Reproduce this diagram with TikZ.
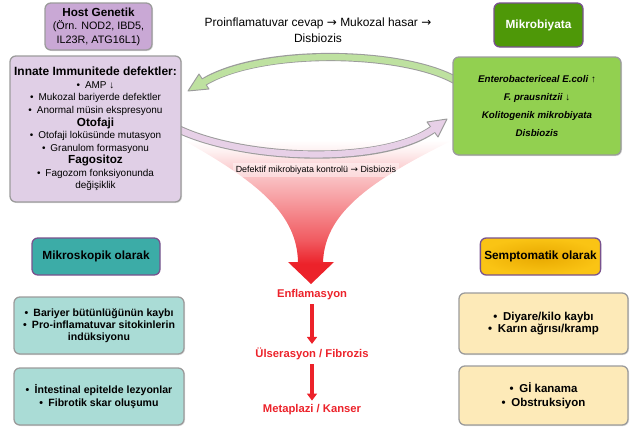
\documentclass[tikz,border=0pt]{standalone}
\usepackage{fontspec}
\setmainfont{Liberation Sans}
\newfontfamily\arrowfont{DejaVu Sans}
\usepackage{xcolor}
\usepackage{tikz}
\usetikzlibrary{positioning,calc,arrows.meta,shadows}
\definecolor{HostLila}{RGB}{201,168,213}
\definecolor{InnateLila}{RGB}{224,207,230}
\definecolor{MikroGreen}{RGB}{78,152,8}
\definecolor{MikroLight}{RGB}{146,208,80}
\definecolor{TealDark}{RGB}{60,172,167}
\definecolor{TealLight}{RGB}{170,220,214}
\definecolor{GoldDeep}{RGB}{232,168,0}
\definecolor{GoldLight}{RGB}{250,196,20}
\definecolor{CreamLight}{RGB}{253,234,184}
\definecolor{FrameGray}{RGB}{155,155,155}
\definecolor{FramePurple}{RGB}{120,82,142}
\definecolor{FlowRed}{RGB}{236,34,42}
\definecolor{ArcGreen}{RGB}{190,225,160}
\definecolor{ArcLila}{RGB}{231,208,231}
\pgfdeclareverticalshading{funnelshade}{100bp}{
    color(0bp)=(FlowRed); color(32bp)=(FlowRed); color(40bp)=(FlowRed!75);
    color(54bp)=(FlowRed!45); color(65bp)=(FlowRed!22); color(71bp)=(FlowRed!7);
    color(75bp)=(white); color(100bp)=(white)}
\newcommand{\pu}{0.3mm}
\newcommand{\rarr}{{\arrowfont →}}
\tikzset{
    infobox/.style={rectangle, rounded corners=5pt, draw=FrameGray, line width=1.1pt,
        align=center, inner sep=2pt,
        drop shadow={opacity=0.25, shadow xshift=0.9pt, shadow yshift=-0.9pt}},
    hdrbox/.style={rectangle, rounded corners=5pt, draw=FramePurple, line width=1.1pt,
        align=center, font=\fontsize{10.1}{12}\selectfont\bfseries}
}

\begin{document}
\begin{tikzpicture}[
        x=\pu, y=-\pu,
        % --- STYLE ---
        flowlabel/.style={text=FlowRed, font=\fontsize{9.6}{11}\selectfont\bfseries},
        flowarrow/.style={draw=FlowRed, line width=2.6pt, -{Triangle[length=6pt,width=8.5pt]}},
        bandout/.style={draw=FrameGray, line width=7pt},
        headtip/.style={draw=FrameGray, line width=0.8pt, line join=round}
    ]
        \useasboundingbox (0,0) rectangle (632,427);

        % --- HUNI (kirmizi) ---
        \shade[shading=funnelshade]
            (183,140) .. controls (260,183) and (297,215) .. (298,262)
            -- (288,262) -- (311,284) -- (334,262) -- (323,262)
            .. controls (325,215) and (365,183) .. (453,140) -- cycle;

        % --- EGRI OKLAR ---
        \coordinate (gTail) at (455,80);
        \coordinate (gBase) at (204,82);
        \coordinate (gTip)  at (188,91);
        \coordinate (gW1)   at (199,74);
        \coordinate (gW2)   at (209,89);
        \draw[bandout] (gTail) .. controls (400,50) and (260,48) .. (gBase);
        \draw[headtip, fill=ArcGreen] (gTip) -- (gW1) -- (gW2) -- cycle;
        \draw[ArcGreen, line width=5.3pt, shorten >=-1.5pt]
            (gTail) .. controls (400,50) and (260,48) .. (gBase);

        \coordinate (pTail) at (176,128);
        \coordinate (pBase) at (432,130);
        \coordinate (pTip)  at (447,119);
        \coordinate (pW1)   at (427,122);
        \coordinate (pW2)   at (438,137);
        \draw[bandout] (pTail) .. controls (240,160) and (380,166) .. (pBase);
        \draw[headtip, fill=ArcLila] (pTip) -- (pW1) -- (pW2) -- cycle;
        \draw[ArcLila, line width=5.3pt, shorten >=-1.5pt]
            (pTail) .. controls (240,160) and (380,166) .. (pBase);

        % --- UST KUTULAR ---
        \node[infobox, fill=HostLila, minimum width=107*\pu, minimum height=47*\pu,
            font=\fontsize{9.2}{11.5}\selectfont] (host) at (98.5,26.5)
            {{\fontsize{10}{11.5}\selectfont\bfseries Host Genetik}\\(Örn. NOD2, IBD5,\\IL23R, ATG16L1)};

        \node[infobox, fill=InnateLila, minimum width=171*\pu, minimum height=146*\pu,
            font=\fontsize{8.5}{10.7}\selectfont] (innate) at (95.5,129)
            {{\fontsize{10.2}{10.7}\selectfont\bfseries Innate Immunitede defektler:}\\
             •\enspace AMP ↓\\
             •\enspace Mukozal bariyerde defektler\\
             •\enspace Anormal müsin ekspresyonu\\
             {\fontsize{10}{10.7}\selectfont\bfseries Otofaji}\\
             •\enspace Otofaji loküsünde mutasyon\\
             •\enspace Granulom formasyonu\\
             {\fontsize{10}{10.7}\selectfont\bfseries Fagositoz}\\
             •\enspace Fagozom fonksiyonunda\\
             değişiklik};

        \node[font=\fontsize{10.2}{14}\selectfont, align=center] (proinf) at (318,30)
            {Proinflamatuvar cevap \rarr{} Mukozal hasar \rarr\\Disbiozis};

        \node[hdrbox, fill=MikroGreen, text=white, minimum width=89*\pu,
            minimum height=44*\pu] (mikrobiyata) at (538.5,25) {Mikrobiyata};

        \node[infobox, fill=MikroLight, minimum width=168*\pu, minimum height=98*\pu,
            font=\fontsize{8.3}{15.3}\selectfont\bfseries\itshape] (flora) at (537,106)
            {Enterobactericeal E.coli ↑\\F. prausnitzii ↓\\Kolitogenik mikrobiyata\\Disbiozis};

        \node[font=\fontsize{7.6}{9}\selectfont, fill=white, fill opacity=0.4,
            text opacity=1, inner sep=2.5pt] (defekt) at (316,170)
            {Defektif mikrobiyata kontrolü \rarr{} Disbiozis};

        % --- KIRMIZI AKIS ---
        \node[flowlabel] (enflamasyon) at (312,295) {Enflamasyon};
        \node[flowlabel] (ulserasyon) at (312,354) {Ülserasyon / Fibrozis};
        \node[flowlabel] (metaplazi) at (312,410) {Metaplazi / Kanser};
        \draw[flowarrow] (enflamasyon) -- (ulserasyon);
        \draw[flowarrow] (ulserasyon) -- (metaplazi);

        % --- ALT KUTULAR ---
        \node[hdrbox, fill=TealDark, minimum width=128*\pu, minimum height=37*\pu]
            (mikroskopik) at (96,256.5) {Mikroskopik olarak};
        \node[hdrbox, inner color=GoldDeep, outer color=GoldLight, minimum width=119*\pu,
            minimum height=37*\pu] (semptomatik) at (540.5,256.5) {Semptomatik olarak};

        \node[infobox, fill=TealLight, minimum width=170*\pu, minimum height=57*\pu,
            font=\fontsize{9}{10.2}\selectfont\bfseries] (teal1) at (99,325.5)
            {•\enspace Bariyer bütünlüğünün kaybı\\
             •\enspace Pro-inflamatuvar sitokinlerin\\
             indüksiyonu};
        \node[infobox, fill=TealLight, minimum width=170*\pu, minimum height=57*\pu,
            font=\fontsize{9}{11}\selectfont\bfseries] (teal2) at (99,396.5)
            {•\enspace İntestinal epitelde lezyonlar\\
             •\enspace Fibrotik skar oluşumu};

        \node[infobox, fill=CreamLight, minimum width=169*\pu, minimum height=61*\pu,
            font=\fontsize{9.8}{11}\selectfont\bfseries] (krem1) at (543.5,323.5)
            {•\enspace Diyare/kilo kaybı\\
             •\enspace Karın ağrısı/kramp};
        \node[infobox, fill=CreamLight, minimum width=169*\pu, minimum height=59*\pu,
            font=\fontsize{9.8}{12}\selectfont\bfseries] (krem2) at (543.5,395.5)
            {•\enspace Gİ kanama\\
             •\enspace Obstruksiyon};

\end{tikzpicture}
\end{document}
